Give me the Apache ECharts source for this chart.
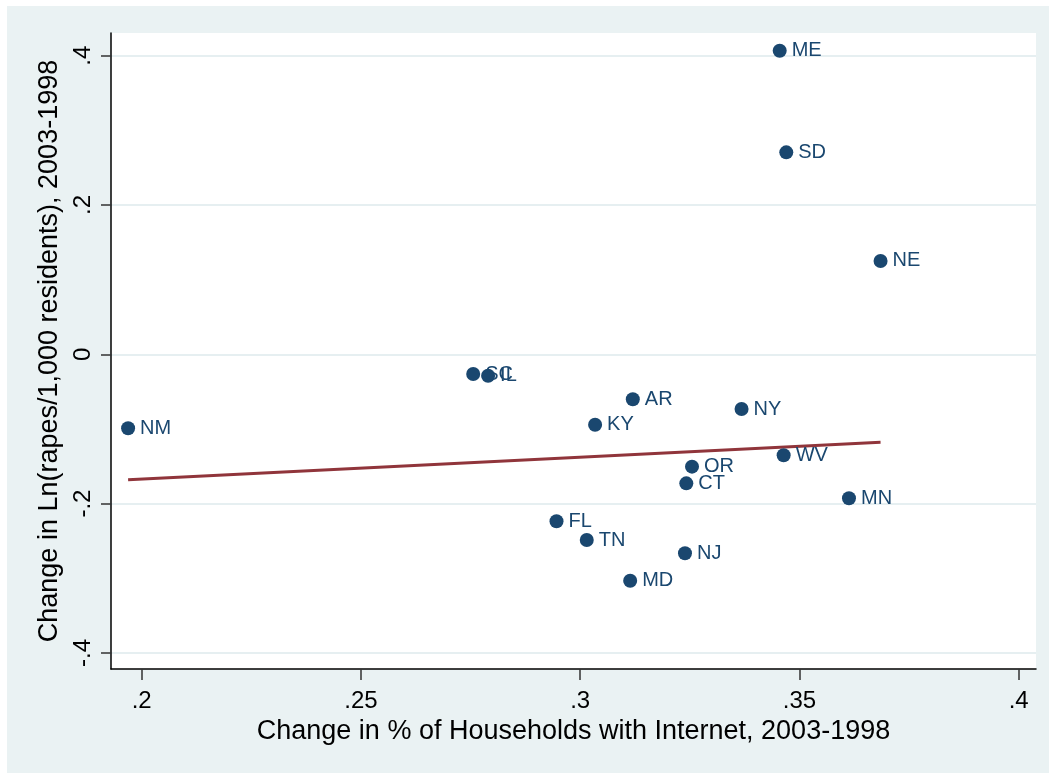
<!DOCTYPE html>
<html>
<head>
<meta charset="utf-8">
<script src="https://cdn.jsdelivr.net/npm/echarts@6/dist/echarts.min.js"></script>
<style>
  html, body { margin: 0; padding: 0; background: #eaf2f3; overflow: hidden; }
  #chart { position: absolute; left: 0; top: 0; width: 1049px; height: 773px; }
</style>
</head>
<body>
<div id="chart"></div>
<script>
// State-level changes, 2003 vs 1998
const states = ['ME', 'SD', 'NE', 'SC', 'IL', 'AR', 'NY', 'KY', 'NM', 'OR', 'WV', 'CT', 'MN', 'FL', 'TN', 'NJ', 'MD'];
const internetChange = [0.3455, 0.3470, 0.3685, 0.2756, 0.2790, 0.3120, 0.3368, 0.3034, 0.1969, 0.3255, 0.3464, 0.3242, 0.3613, 0.2946, 0.3015, 0.3239, 0.3114];
const rapeRateChange = [0.4067, 0.2705, 0.1250, -0.0264, -0.0287, -0.0603, -0.0733, -0.0943, -0.0991, -0.1505, -0.1353, -0.1729, -0.1929, -0.2236, -0.2488, -0.2666, -0.3033];

// Linear fit endpoints (x, fitted y)
const fitX = [0.1969, 0.3685];
const fitY = [-0.1680, -0.1179];

const xTicks = [0.2, 0.25, 0.3, 0.35, 0.4];
const yTicks = [-0.4, -0.2, 0, 0.2, 0.4];

const xTitle = 'Change in % of Households with Internet, 2003-1998';
const yTitle = 'Change in Ln(rapes/1,000 residents), 2003-1998';

// Stata-style tick labels: drop the leading zero (".25", "-.2")
function stataNum(v) {
  const s = String(Math.round(v * 1000) / 1000);
  return s.replace(/^(-?)0\./, '$1.');
}

const navy = '#1a476f';
const maroon = '#90353b';
const font = '"Liberation Sans", Arial, Helvetica, sans-serif';

const points = states.map((s, i) => ({ name: s, value: [internetChange[i], rapeRateChange[i]] }));
const fitLine = fitX.map((x, i) => [x, fitY[i]]);

const chart = echarts.init(document.getElementById('chart'), null, { renderer: 'canvas' });
chart.setOption({
  backgroundColor: '#eaf2f3',
  animation: false,
  textStyle: { fontFamily: font },
  // thin white page margin along the top and left edges
  graphic: {
    elements: [
      { type: 'rect', left: 0, top: 0, z: -100, silent: true, shape: { width: 1049, height: 6 }, style: { fill: '#ffffff' } },
      { type: 'rect', left: 0, top: 0, z: -100, silent: true, shape: { width: 7, height: 773 }, style: { fill: '#ffffff' } }
    ]
  },
  grid: {
    left: 111, top: 33, width: 925, height: 636,
    show: true, backgroundColor: '#ffffff', borderWidth: 0
  },
  xAxis: {
    type: 'value',
    min: 0.1930, max: 0.40395,
    name: xTitle,
    nameLocation: 'middle',
    nameGap: 43,
    nameTextStyle: { fontSize: 27, color: '#000', fontFamily: font },
    axisLine: { show: true, onZero: false, lineStyle: { color: '#000', width: 1.5 } },
    axisTick: { show: true, length: 11, customValues: xTicks, lineStyle: { color: '#333', width: 1.5 } },
    axisLabel: { customValues: xTicks, formatter: stataNum, fontSize: 24, color: '#000', margin: 20, fontFamily: font },
    splitLine: { show: false }
  },
  yAxis: {
    type: 'value',
    min: -0.4216, max: 0.4304,
    name: yTitle,
    nameLocation: 'middle',
    nameGap: 42,
    nameTextStyle: { fontSize: 27, color: '#000', fontFamily: font },
    axisLine: { show: true, onZero: false, lineStyle: { color: '#000', width: 1.5 } },
    axisTick: { show: true, length: 10, customValues: yTicks, lineStyle: { color: '#333', width: 1.5 } },
    axisLabel: { customValues: yTicks, formatter: stataNum, fontSize: 24, color: '#000', margin: 16, rotate: 90, fontFamily: font },
    splitLine: { show: true, lineStyle: { color: '#e6eff1', width: 2 } }
  },
  series: [
    {
      type: 'scatter',
      data: points,
      symbol: 'circle',
      symbolSize: 14,
      itemStyle: { color: navy, opacity: 1 },
      label: {
        show: true,
        position: 'right',
        distance: 5,
        formatter: p => p.name,
        color: navy,
        fontSize: 20,
        fontFamily: font
      },
      z: 3
    },
    {
      type: 'line',
      data: fitLine,
      symbol: 'none',
      lineStyle: { color: maroon, width: 3 },
      z: 2
    }
  ]
});
</script>
</body>
</html>
